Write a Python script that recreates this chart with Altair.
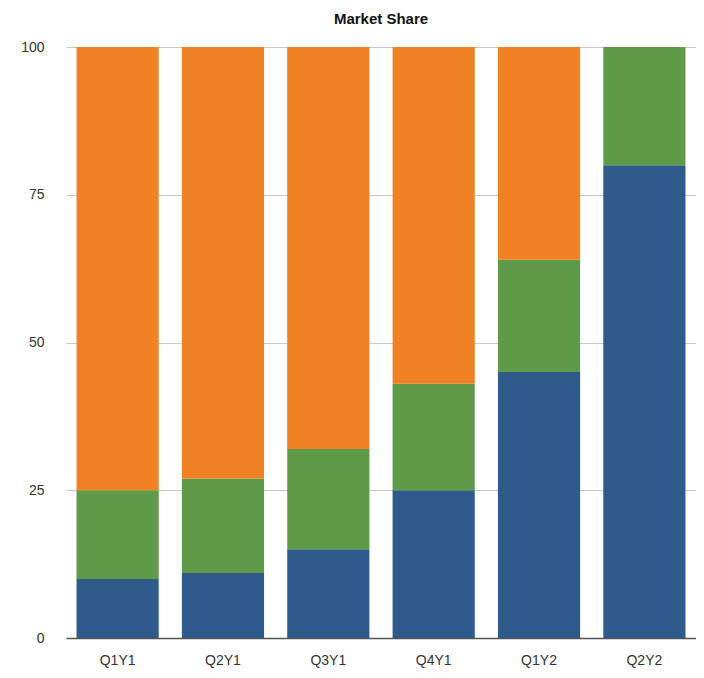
import altair as alt
import pandas as pd

quarters = ["Q1Y1", "Q2Y1", "Q3Y1", "Q4Y1", "Q1Y2", "Q2Y2"]
blue_vals = [10, 11, 15, 25, 45, 80]
green_vals = [15, 16, 17, 18, 19, 20]
orange_vals = [75, 73, 68, 57, 36, 0]

series_names = ["Blue", "Green", "Orange"]
series_colors = ["#2E5A8C", "#5E9A48", "#F08125"]

rows = []
for i, q in enumerate(quarters):
    for k, (name, vals) in enumerate(zip(series_names, [blue_vals, green_vals, orange_vals])):
        rows.append({"quarter": q, "series": name, "value": vals[i], "order": k})
df = pd.DataFrame(rows)

chart = alt.Chart(df, title=alt.Title(
    "Market Share", fontSize=15, fontWeight="bold", font="Liberation Sans",
    color="#111", anchor="middle", offset=13)).mark_bar().encode(
    x=alt.X("quarter:N", sort=quarters, title=None,
            scale=alt.Scale(paddingInner=0.22, paddingOuter=0.1),
            axis=alt.Axis(labelAngle=0, ticks=False, labelPadding=15, labelFontSize=14,
                          labelFont="Liberation Sans", labelColor="#333",
                          domainColor="#555", domainWidth=1.5)),
    y=alt.Y("value:Q", stack="zero", title=None,
            scale=alt.Scale(domain=[0, 100], nice=False),
            axis=alt.Axis(values=[0, 25, 50, 75, 100], ticks=False, domain=False,
                          labelPadding=22, labelFontSize=14, labelFont="Liberation Sans",
                          labelColor="#333", gridColor="#c8c8c8", gridWidth=1.2)),
    color=alt.Color("series:N", scale=alt.Scale(domain=series_names, range=series_colors),
                    legend=None),
    order=alt.Order("order:Q", sort="ascending"),
).properties(
    width=630, height=591,
    autosize=alt.AutoSizeParams(type="none"),
    padding={"left": 58, "top": 39, "right": 0, "bottom": 31},
).configure_view(stroke=None)

chart.save("out.html", embed_options={"renderer": "svg", "actions": False})
